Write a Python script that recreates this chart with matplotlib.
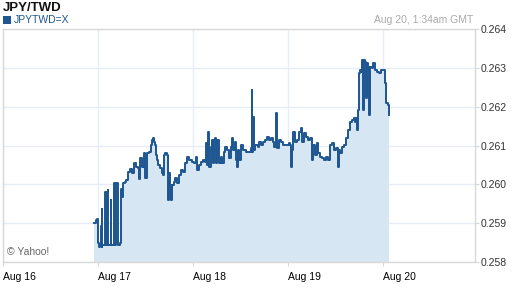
import matplotlib
matplotlib.use("Agg")
import matplotlib.pyplot as plt
from matplotlib.patches import Rectangle

plt.rcParams['font.family'] = ['Liberation Sans', 'DejaVu Sans']

# hours since Aug 16 00:00 GMT
hours = [22.99, 23.49, 23.75, 24.0, 24.1, 24.25, 24.5, 24.76, 24.9, 25.0, 25.1, 25.5, 25.77, 26.0,
         26.27, 26.5, 26.65, 27.0, 27.28, 27.4, 27.8, 28.04, 28.3, 28.55, 28.8, 29.06, 29.56, 29.81,
         30.06, 30.3, 30.8, 31.07, 31.58, 32.08, 32.59, 33.09, 33.6, 34.1, 34.36, 34.61, 35.11, 35.62,
         35.87, 36.38, 36.88, 37.39, 37.64, 37.89, 38.15, 38.4, 38.65, 38.9, 39.16, 39.66, 40.17, 40.42,
         40.67, 40.93, 41.43, 41.68, 41.8, 41.94, 42.19, 42.44, 42.7, 43.2, 43.45, 43.96, 44.46, 44.97,
         45.47, 45.98, 46.48, 46.99, 47.75, 48.25, 48.76, 49.0, 49.51, 50.02, 50.53, 51.03, 51.28, 51.54,
         51.79, 52.04, 52.55, 52.8, 53.05, 53.31, 53.56, 53.81, 54.06, 54.57, 55.07, 55.33, 55.83, 56.08,
         56.59, 57.09, 57.6, 57.85, 58.1, 58.61, 58.86, 59.11, 59.37, 59.62, 60.13, 60.63, 61.39, 62.15,
         62.65, 62.9, 63.03, 63.28, 63.4, 63.66, 64.42, 64.67, 65.18, 65.68, 66.19, 66.69, 67.2, 67.7,
         68.21, 68.46, 68.71, 68.97, 69.22, 69.73, 70.23, 70.74, 71.49, 72.25, 72.5, 72.75, 73.0, 73.26,
         73.76, 74.27, 74.78, 75.28, 75.54, 76.04, 76.55, 77.05, 77.56, 78.06, 78.32, 78.82, 79.33, 79.58,
         80.08, 80.59, 81.09, 81.6, 82.1, 82.61, 83.11, 83.62, 84.13, 84.63, 84.88, 85.14, 85.64, 86.15,
         86.65, 87.16, 87.66, 88.17, 88.67, 88.93, 89.18, 89.43, 89.69, 89.94, 90.19, 90.44, 90.69, 90.95,
         91.2, 91.45, 91.7, 91.96, 92.21, 92.46, 92.72, 93.22, 93.47, 93.98, 94.48, 94.99, 95.49, 96.0,
         96.25, 96.5, 96.75, 97.26, 97.51, 97.64]

rates = [0.25901, 0.25908, 0.25912, 0.25882, 0.25849, 0.25839, 0.25844, 0.25893, 0.25839, 0.25937,
         0.25844, 0.25844, 0.25980, 0.25844, 0.25980, 0.25985, 0.25844, 0.25844, 0.25960, 0.25844,
         0.25844, 0.26003, 0.25844, 0.26003, 0.26003, 0.25844, 0.25849, 0.25988, 0.25967, 0.26003,
         0.26006, 0.26011, 0.26032, 0.26040, 0.26029, 0.26055, 0.26045, 0.26042, 0.26014, 0.26068,
         0.26045, 0.26081, 0.26016, 0.26081, 0.26083, 0.26101, 0.26114, 0.26119, 0.26109, 0.26101,
         0.26076, 0.26063, 0.26050, 0.26042, 0.26029, 0.26024, 0.26076, 0.26081, 0.26076, 0.26070,
         0.25960, 0.26029, 0.25998, 0.25960, 0.25998, 0.26006, 0.26016, 0.26003, 0.26024, 0.26037,
         0.26032, 0.26055, 0.26070, 0.26063, 0.26058, 0.26055, 0.26070, 0.26037, 0.26050, 0.26058,
         0.26063, 0.26058, 0.26106, 0.26050, 0.26135, 0.26045, 0.26096, 0.26114, 0.26055, 0.26114,
         0.26119, 0.26055, 0.26114, 0.26055, 0.26070, 0.26055, 0.26083, 0.26096, 0.26088, 0.26068,
         0.26096, 0.26119, 0.26088, 0.26109, 0.26063, 0.26045, 0.26088, 0.26063, 0.26101, 0.26088,
         0.26083, 0.26083, 0.26094, 0.26243, 0.26083, 0.26173, 0.26088, 0.26101, 0.26096, 0.26109,
         0.26101, 0.26109, 0.26114, 0.26122, 0.26114, 0.26119, 0.26109, 0.26096, 0.26096, 0.26184,
         0.26094, 0.26114, 0.26109, 0.26101, 0.26101, 0.26106, 0.26101, 0.26045, 0.26088, 0.26135,
         0.26109, 0.26114, 0.26135, 0.26145, 0.26109, 0.26132, 0.26122, 0.26114, 0.26119, 0.26063,
         0.26101, 0.26076, 0.26106, 0.26081, 0.26070, 0.26068, 0.26063, 0.26070, 0.26063, 0.26101,
         0.26106, 0.26088, 0.26094, 0.26045, 0.26088, 0.26081, 0.26096, 0.26101, 0.26119, 0.26140,
         0.26161, 0.26166, 0.26171, 0.26161, 0.26171, 0.26140, 0.26191, 0.26287, 0.26294, 0.26289,
         0.26320, 0.26191, 0.26320, 0.26315, 0.26222, 0.26312, 0.26302, 0.26179, 0.26302, 0.26300,
         0.26312, 0.26294, 0.26289, 0.26287, 0.26294, 0.26294, 0.26294, 0.26261, 0.26209, 0.26204,
         0.26197, 0.26179]

x_labels = ["Aug 16", "Aug 17", "Aug 18", "Aug 19", "Aug 20"]
y_ticks = [0.258, 0.259, 0.260, 0.261, 0.262, 0.263, 0.264]

line_c = "#1d5690"
fill_c = "#d6e6f2"
grid_c = "#e6edf6"
spine_c = "#d8d8d8"

fig = plt.figure(figsize=(5.12, 2.88), dpi=100)
W, H = 512, 288
ax = fig.add_axes([3 / W, (H - 262) / H, (475 - 3) / W, (262 - 29) / H])

days = [h / 24 for h in hours]
ax.fill_between(days, rates, 0.258, color=fill_c, lw=0, zorder=1, step='post')
ax.plot(days, rates, color=line_c, lw=1.4, zorder=3, drawstyle='steps-post')

ax.set_xlim(0, 4.97)
ax.set_ylim(0.258, 0.264)
ax.set_xticks(range(len(x_labels)))
ax.set_xticklabels(x_labels, ha='left', fontsize=7.5)
ax.set_yticks(y_ticks)
ax.set_yticklabels([f"{v:.3f}" for v in y_ticks], fontsize=7.5, color="#333333")
ax.yaxis.tick_right()
ax.tick_params(axis='y', length=3, width=0.8, color=spine_c, pad=1)
ax.tick_params(axis='x', length=3, width=0.8, color=spine_c, pad=4)
ax.grid(True, color=grid_c, lw=1.0, zorder=0)
ax.set_axisbelow(True)
for s in ax.spines.values():
    s.set_color(spine_c)
    s.set_linewidth(1.0)

fig.text(3 / W, 1 - 8 / H, "JPY/TWD", fontsize=9.5, fontweight='bold', va='center', ha='left', color='#111111')
fig.patches.append(Rectangle((3 / W, 1 - 24 / H), 8 / W, 8 / H, transform=fig.transFigure,
                             facecolor=line_c, edgecolor='none'))
fig.text(14 / W, 1 - 20 / H, "JPYTWD=X", fontsize=7.5, va='center', ha='left', color=line_c)
fig.text(473 / W, 1 - 20 / H, "Aug 20, 1:34am GMT", fontsize=7.5, va='center', ha='right', color='#aaaaaa')
fig.text(7 / W, 1 - 252 / H, "© Yahoo!", fontsize=7.5, va='center', ha='left', color='#666666')

fig.savefig("out.png", dpi=100)
